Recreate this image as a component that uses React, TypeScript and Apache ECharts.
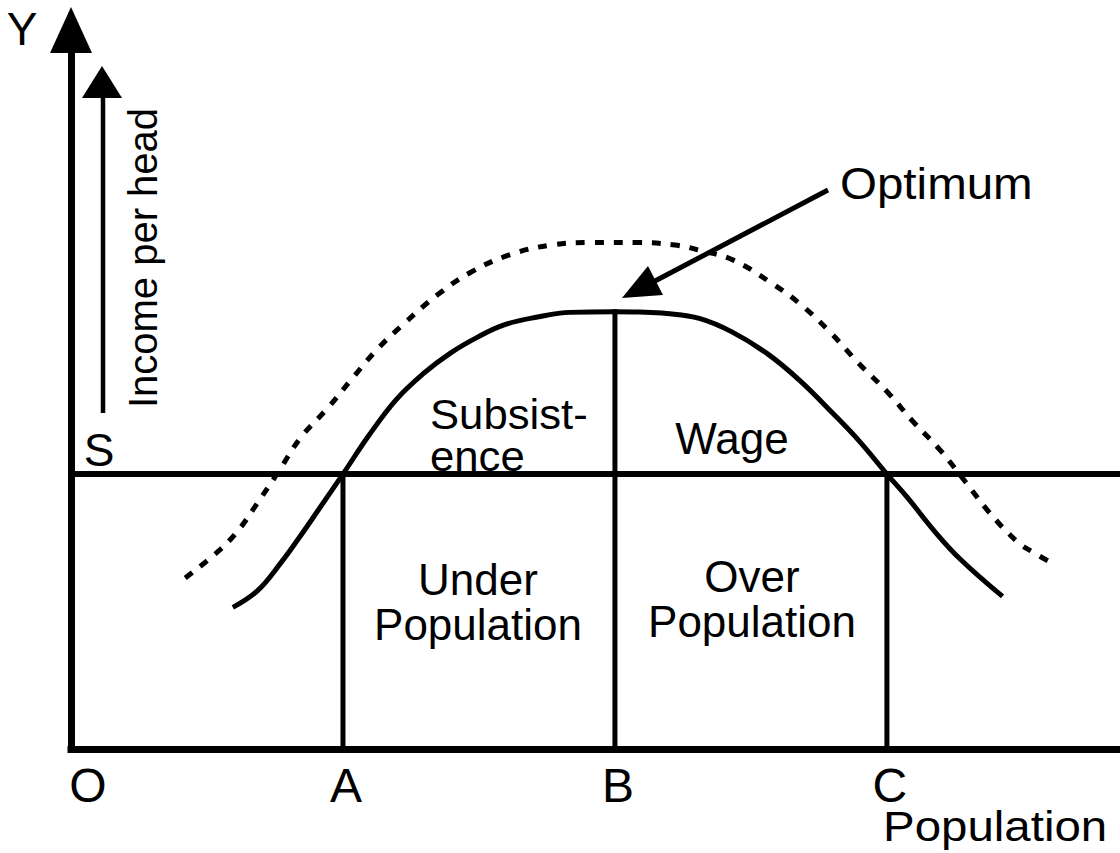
import React, { useEffect, useRef } from 'react';
import * as echarts from 'echarts';

// ---- Data ----
const xTicks = [0, 10, 20, 30];
const tickLabels = ['O', 'A', 'B', 'C'];
const subsistence = 10;
const pointA = 10;
const pointB = 20;
const pointC = 30;
const optimumIncome = 15.9;
const xMax = 38.57;
const yMax = 26.15;

// solid curve: income per head
const incomeCurve: [number, number][] = [
  [5.95, 5.15], [6.85, 5.75], [7.7, 6.75], [8.4, 7.7], [9.1, 8.7], [10.0, 10.0],
  [10.95, 11.4], [11.95, 12.7], [12.95, 13.65], [13.95, 14.4], [14.95, 14.98],
  [15.9, 15.42], [17.15, 15.71], [18.35, 15.88], [20.0, 15.9], [20.9, 15.89],
  [21.9, 15.84], [23.1, 15.66], [24.3, 15.17], [25.6, 14.38], [26.8, 13.4],
  [28.0, 12.22], [29.0, 11.18], [30.0, 10.0], [30.75, 9.15], [31.7, 7.98],
  [32.7, 6.9], [34.25, 5.55],
];

// dashed curve
const upperCurve: [number, number][] = [
  [4.2, 6.22], [5.45, 7.22], [6.15, 7.95], [6.85, 8.94], [7.6, 10.04], [8.45, 11.33],
  [9.45, 12.41], [10.35, 13.49], [11.3, 14.58], [12.3, 15.52], [13.45, 16.5],
  [14.7, 17.34], [16.15, 17.98], [17.65, 18.33], [19.2, 18.42], [20.8, 18.42],
  [22.2, 18.33], [23.15, 18.13], [24.35, 17.78], [25.75, 16.95], [26.85, 16.15],
  [27.95, 15.12], [28.95, 14.04], [30.05, 12.95], [30.95, 11.92], [31.95, 10.88],
  [32.9, 9.7], [33.75, 8.62], [34.8, 7.53], [35.4, 7.14], [36.0, 6.8],
];

const FONT = '"Liberation Sans", Arial, Helvetica, sans-serif';

function txt(text: string, x: number, y: number, size: number, align: string, extra: any = {}, styleExtra: any = {}) {
  return {
    type: 'text',
    x,
    y,
    ...extra,
    style: {
      text,
      fill: '#000',
      fontSize: size,
      fontFamily: FONT,
      align,
      textAlign: align,
      verticalAlign: 'middle',
      textVerticalAlign: 'middle',
      ...styleExtra,
    },
  };
}

function buildOption(): any {
  const seg = (data: number[][], width: number) => ({
    type: 'line',
    data,
    symbol: 'none',
    silent: true,
    lineStyle: { color: '#000', width, cap: 'square' },
    z: 2,
  });
  return {
    animation: false,
    backgroundColor: '#fff',
    grid: { left: 71, right: 0, top: 30, bottom: 104, containLabel: false },
    xAxis: {
      type: 'value',
      min: 0,
      max: xMax,
      interval: 10,
      axisLine: { show: true, lineStyle: { color: '#000', width: 7, cap: 'square' } },
      axisTick: { show: false },
      splitLine: { show: false },
      axisLabel: {
        margin: 12,
        showMaxLabel: false,
        formatter: (v: number) => {
          const i = xTicks.indexOf(v);
          if (i < 0) return '';
          return i === 0 ? '{o|' + tickLabels[i] + '}' : '{t|' + tickLabels[i] + '}';
        },
        rich: {
          o: { fontSize: 48, fontFamily: FONT, color: '#000', padding: [0, 0, 0, 34] },
          t: { fontSize: 48, fontFamily: FONT, color: '#000', padding: [0, 0, 0, 6] },
        },
      },
    },
    yAxis: {
      type: 'value',
      min: 0,
      max: yMax,
      axisLine: {
        show: true,
        symbol: ['none', 'triangle'],
        symbolSize: [42, 46],
        lineStyle: { color: '#000', width: 7, cap: 'square' },
      },
      axisTick: { show: false },
      splitLine: { show: false },
      axisLabel: { show: false },
    },
    series: [
      seg([[0, subsistence], [xMax, subsistence]], 6),
      seg([[pointA, 0], [pointA, subsistence]], 5),
      seg([[pointB, 0], [pointB, optimumIncome]], 5),
      seg([[pointC, 0], [pointC, subsistence]], 5),
      {
        type: 'line',
        data: incomeCurve,
        smooth: 0.4,
        symbol: 'none',
        silent: true,
        lineStyle: { color: '#000', width: 5 },
        z: 3,
      },
      {
        type: 'line',
        data: upperCurve,
        smooth: 0.4,
        symbol: 'none',
        silent: true,
        lineStyle: { color: '#000', width: 5, type: [9, 10] },
        z: 3,
      },
    ],
    graphic: [
      txt('Y', 22, 29, 46, 'center'),
      txt('S', 99, 450, 46, 'center'),
      txt('Income per head', 143, 258, 40, 'center', { rotation: Math.PI / 2 }),
      // income arrow
      { type: 'line', shape: { x1: 103, y1: 413, x2: 103, y2: 92 }, style: { stroke: '#000', lineWidth: 4.5 } },
      { type: 'polygon', shape: { points: [[102, 66], [82, 98], [122, 98]] }, style: { fill: '#000' } },
      // optimum annotation
      txt('Optimum', 840, 184, 44, 'left', { scaleX: 1.08 }),
      { type: 'line', shape: { x1: 828, y1: 190, x2: 655, y2: 281 }, style: { stroke: '#000', lineWidth: 5 } },
      { type: 'polygon', shape: { points: [[622, 298], [663, 295], [648, 266]] }, style: { fill: '#000' } },
      // region labels
      txt('Subsist-\nence', 430, 435, 42, 'left', { scaleX: 1.04 }, { lineHeight: 42 }),
      txt('Wage', 732, 438, 44, 'center'),
      txt('Under\nPopulation', 478, 602, 44, 'center', {}, { lineHeight: 45 }),
      txt('Over\nPopulation', 752, 599, 44, 'center', {}, { lineHeight: 45 }),
      txt('Population', 883, 826, 42, 'left', { scaleX: 1.13 }),
    ],
  };
}

export default function App() {
  const ref = useRef<HTMLDivElement>(null);
  useEffect(() => {
    if (!ref.current) return;
    const chart = echarts.init(ref.current, null, { renderer: 'svg' });
    chart.setOption(buildOption());
    return () => chart.dispose();
  }, []);
  return (
    <div
      ref={ref}
      style={{ position: 'absolute', left: 0, top: 0, width: 1120, height: 853, background: '#fff' }}
    />
  );
}
